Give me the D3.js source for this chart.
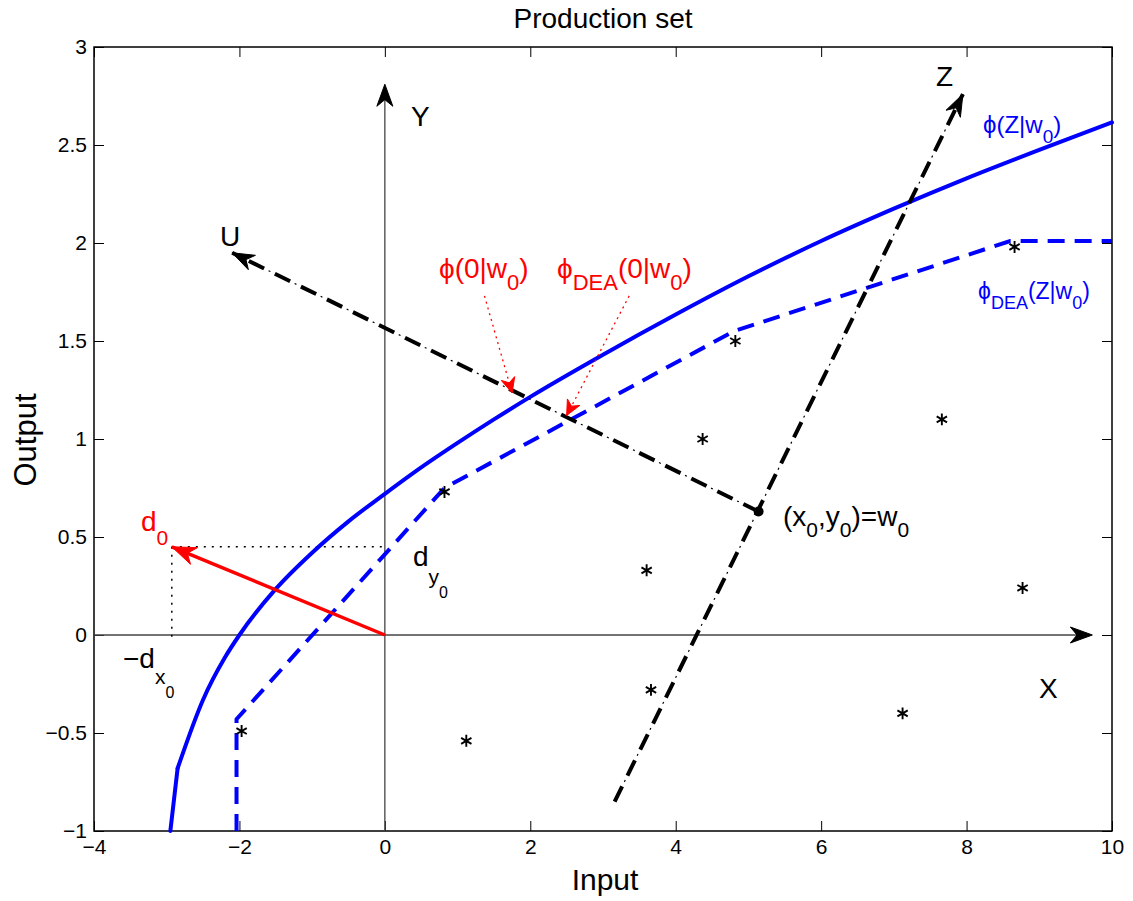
<!DOCTYPE html>
<html><head><meta charset="utf-8">
<script src="https://cdn.jsdelivr.net/npm/d3@7"></script>
<style>body{margin:0;background:#fff} text{font-family:"Liberation Sans",Arial,Helvetica,sans-serif}</style>
</head><body><svg id="c" width="1133" height="901"></svg>
<script>
// ---- data ----
const xTicks = [-4, -2, 0, 2, 4, 6, 8, 10];
const yTicks = [-1, -0.5, 0, 0.5, 1, 1.5, 2, 2.5, 3];
const frontierX = [-2.95, -2.85, -2.5, -2.2, -2.0, -1.5, -1.0, -0.5, 0, 0.5, 1, 1.5, 2, 3, 4, 5, 6, 7, 8, 9, 10];
const frontierY = [-1, -0.68, -0.33, -0.115, 0, 0.235, 0.42, 0.58, 0.72, 0.855, 0.98, 1.10, 1.215, 1.43, 1.635, 1.83, 2.01, 2.175, 2.33, 2.475, 2.615];
const deaX = [-2.04, -2.04, 0.82, 4.8, 8.6, 10];
const deaY = [-1, -0.43, 0.75, 1.55, 2.01, 2.01];
const obsX = [0.82, -1.97, 4.82, 4.37, 7.66, 8.66, 3.60, 3.66, 1.12, 7.12, 8.77];
const obsY = [0.73, -0.49, 1.50, 1.00, 1.10, 1.98, 0.33, -0.28, -0.54, -0.40, 0.24];
const w0 = [5.14, 0.63];
const zStart = [3.16, -0.85];
const zEnd = [7.95, 2.76];
const uEnd = [-2.1, 1.95];
const d0 = [-2.93, 0.45];
const phi0 = [1.75, 1.235];
const phiDEA0 = [2.5, 1.12];
const phi0From = [1.37, 1.73];
const phiDEA0From = [3.36, 1.73];
const xAxisEnd = 9.73;
const yAxisEnd = 2.81;

// ---- setup ----
const svg = d3.select('#c');
const x = d3.scaleLinear().domain([-4, 10]).range([94, 1112]);
const y = d3.scaleLinear().domain([-1, 3]).range([831, 47]);
const line = d3.line().x(d => x(d[0])).y(d => y(d[1]));
const smooth = d3.line().x(d => x(d[0])).y(d => y(d[1])).curve(d3.curveMonotoneX);

function styleAxis(g) {
  g.select('.domain').remove();
  g.selectAll('.tick line').attr('stroke', '#000').attr('stroke-width', 1);
  g.selectAll('.tick text').attr('font-size', 21).attr('fill', '#000')
    .style('font-family', '"Liberation Sans",Arial,sans-serif');
}
const fmt = d => String(d).replace('-', '\u2212');
svg.append('g').attr('transform', `translate(0,${y(-1)})`)
  .call(d3.axisBottom(x).tickValues(xTicks).tickSizeInner(-10).tickSizeOuter(0).tickPadding(8).tickFormat(fmt))
  .call(styleAxis);
svg.append('g').attr('transform', `translate(0,${y(3)})`)
  .call(d3.axisTop(x).tickValues(xTicks).tickSizeInner(-10).tickSizeOuter(0).tickFormat(''))
  .call(styleAxis);
svg.append('g').attr('transform', `translate(${x(-4)},0)`)
  .call(d3.axisLeft(y).tickValues(yTicks).tickSizeInner(-10).tickSizeOuter(0).tickPadding(7).tickFormat(fmt))
  .call(styleAxis);
svg.append('g').attr('transform', `translate(${x(10)},0)`)
  .call(d3.axisRight(y).tickValues(yTicks).tickSizeInner(-10).tickSizeOuter(0).tickFormat(''))
  .call(styleAxis);
svg.append('rect').attr('x', x(-4)).attr('y', y(3)).attr('width', x(10) - x(-4)).attr('height', y(-1) - y(3))
  .attr('fill', 'none').attr('stroke', '#000').attr('stroke-width', 1.5);

// title and axis labels
svg.append('text').attr('x', 603).attr('y', 28).attr('text-anchor', 'middle').attr('font-size', 28).text('Production set');
svg.append('text').attr('x', 605).attr('y', 890).attr('text-anchor', 'middle').attr('font-size', 30).text('Input');
svg.append('text').attr('transform', 'translate(36,440) rotate(-90)').attr('text-anchor', 'middle').attr('font-size', 31).text('Output');

function arrowHead(tip, from, len, half, color) {
  const dx = tip[0] - from[0], dy = tip[1] - from[1];
  const L = Math.hypot(dx, dy), ux = dx / L, uy = dy / L;
  const px = -uy, py = ux;
  const bx = tip[0] - ux * len, by = tip[1] - uy * len;
  const nx = tip[0] - ux * len * 0.7, ny = tip[1] - uy * len * 0.7;
  const p = [[tip[0], tip[1]], [bx + px * half, by + py * half], [nx, ny], [bx - px * half, by - py * half]];
  svg.append('path').attr('d', 'M' + p.map(q => q.join(',')).join('L') + 'Z').attr('fill', color).attr('stroke', color).attr('stroke-width', 1);
}

// coordinate axes X, Y
svg.append('line').attr('x1', x(-4)).attr('y1', y(0)).attr('x2', x(xAxisEnd) - 10).attr('y2', y(0))
  .attr('stroke', '#444').attr('stroke-width', 1.3);
arrowHead([x(xAxisEnd), y(0)], [x(0), y(0)], 22, 8, '#000');
svg.append('line').attr('x1', x(0)).attr('y1', y(-1)).attr('x2', x(0)).attr('y2', y(yAxisEnd) + 10)
  .attr('stroke', '#444').attr('stroke-width', 1.3);
arrowHead([x(0), y(yAxisEnd)], [x(0), y(0)], 22, 8, '#000');

// dotted projections of d0
svg.append('path').attr('d', line([[d0[0], d0[1]], [0, d0[1]]])).attr('stroke', '#000').attr('stroke-width', 1.5)
  .attr('stroke-dasharray', '2,6').attr('fill', 'none');
svg.append('path').attr('d', line([[d0[0], d0[1]], [d0[0], -0.02]])).attr('stroke', '#000').attr('stroke-width', 1.5)
  .attr('stroke-dasharray', '2,6').attr('fill', 'none');

// frontier curves
const fr = frontierX.map((v, i) => [v, frontierY[i]]);
svg.append('path').attr('d', line(fr.slice(0, 2))).attr('fill', 'none')
  .attr('stroke', '#0000ff').attr('stroke-width', 4).attr('stroke-linecap', 'round');
svg.append('path').attr('d', smooth(fr.slice(1))).attr('fill', 'none')
  .attr('stroke', '#0000ff').attr('stroke-width', 4).attr('stroke-linecap', 'round');
svg.append('path').attr('d', line(deaX.map((v, i) => [v, deaY[i]]))).attr('fill', 'none')
  .attr('stroke', '#0000ff').attr('stroke-width', 4).attr('stroke-dasharray', '17,10');

// dash-dot lines Z and U
function dashDot(a, b) {
  const d = line([a, b]);
  svg.append('path').attr('d', d).attr('fill', 'none').attr('stroke', '#000').attr('stroke-width', 4)
    .attr('stroke-dasharray', '17,12');
  svg.append('path').attr('d', d).attr('fill', 'none').attr('stroke', '#000').attr('stroke-width', 1.2)
    .attr('stroke-dasharray', '2,27').attr('stroke-dashoffset', -22);
}
const zEndPx = [x(zEnd[0]), y(zEnd[1])], zStartPx = [x(zStart[0]), y(zStart[1])];
dashDot(zStart, zEnd);
arrowHead(zEndPx, zStartPx, 22, 8, '#000');
const uEndPx = [x(uEnd[0]), y(uEnd[1])], w0Px = [x(w0[0]), y(w0[1])];
dashDot(w0, uEnd);
arrowHead(uEndPx, w0Px, 22, 8, '#000');

// red dotted pointers
function redPointer(from, to) {
  svg.append('path').attr('d', line([from, to])).attr('fill', 'none').attr('stroke', '#ff0000')
    .attr('stroke-width', 1.3).attr('stroke-dasharray', '2,4');
  arrowHead([x(to[0]), y(to[1])], [x(from[0]), y(from[1])], 15, 7, '#ff0000');
}
redPointer(phi0From, phi0);
redPointer(phiDEA0From, phiDEA0);

// red d0 vector
const d0Px = [x(d0[0]), y(d0[1])];
svg.append('path').attr('d', line([[0, 0], d0])).attr('stroke', '#ff0000').attr('stroke-width', 3.5).attr('fill', 'none');
arrowHead(d0Px, [x(0), y(0)], 24, 9, '#ff0000');

// observations
svg.selectAll('.obs').data(obsX.map((v, i) => [v, obsY[i]])).enter().append('path')
  .attr('transform', d => `translate(${x(d[0])},${y(d[1])})`)
  .attr('d', d3.symbol(d3.symbolAsterisk, 100)).attr('fill', 'none').attr('stroke', '#000').attr('stroke-width', 1.9);

// w0 point
svg.append('circle').attr('cx', w0Px[0]).attr('cy', w0Px[1]).attr('r', 5).attr('fill', '#000');

function rich(x0, y0, parts, sizes, shifts, color) {
  const t = svg.append('text').attr('x', x0).attr('y', y0).attr('fill', color);
  let cur = 0;
  parts.forEach(([s, lvl]) => {
    const off = shifts[lvl];
    t.append('tspan').attr('dy', off - cur).attr('font-size', sizes[lvl]).text(s);
    cur = off;
  });
}
const S = [28, 21, 16], SH = [0, 11, 24];
rich(1039, 698, [['X', 0]], S, SH, '#000');
rich(411, 126, [['Y', 0]], S, SH, '#000');
rich(936, 86, [['Z', 0]], S, SH, '#000');
rich(220, 246, [['U', 0]], S, SH, '#000');
rich(783, 526, [['(x', 0], ['0', 1], [',y', 0], ['0', 1], [')=w', 0], ['0', 1]], S, SH, '#000');
rich(413, 566, [['d', 0], ['y', 1], ['0', 2]], S, [0, 18, 32], '#000');
rich(123, 668, [['\u2212d', 0], ['x', 1], ['0', 2]], S, [0, 16, 30], '#000');
rich(141, 531, [['d', 0], ['0', 1]], [28, 21], [0, 14], '#ff0000');
rich(439, 278, [['\u03d5(0|w', 0], ['0', 1], [')', 0]], [28, 22], [0, 12], '#ff0000');
rich(557, 278, [['\u03d5', 0], ['DEA', 1], ['(0|w', 0], ['0', 1], [')', 0]], [28, 22], [0, 12], '#ff0000');
rich(983, 133, [['\u03d5(Z|w', 0], ['0', 1], [')', 0]], [24, 19], [0, 10], '#0000ff');
rich(978, 299, [['\u03d5', 0], ['DEA', 1], ['(Z|w', 0], ['0', 1], [')', 0]], [23, 18], [0, 10], '#0000ff');
</script></body></html>
